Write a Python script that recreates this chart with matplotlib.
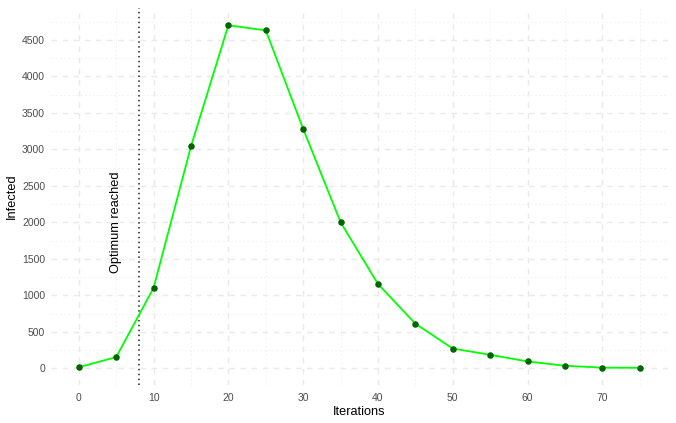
import matplotlib
matplotlib.use("Agg")
import matplotlib.pyplot as plt
from matplotlib.ticker import MultipleLocator

iterations = [0, 5, 10, 15, 20, 25, 30, 35, 40, 45, 50, 55, 60, 65, 70, 75]
infected = [14, 152, 1100, 3040, 4700, 4630, 3280, 2000, 1155, 610, 270, 184, 93, 34, 8, 6]
optimum_x = 8
annot_text = "Optimum reached"
annot_pos = (5, 2000)

plt.rcParams['font.family'] = ['Liberation Sans', 'DejaVu Sans']

fig = plt.figure(figsize=(6.76, 4.23), dpi=100)
ax = fig.add_axes([0.075, 0.0898, 0.913, 0.891])

ax.plot(iterations, infected, color='#00FF00', lw=1.3, zorder=3)
ax.scatter(iterations, infected, s=22, color='#006400', zorder=4, linewidths=0)
ax.axvline(optimum_x, color='#222222', lw=1.1, linestyle=(0, (1, 2.2)), zorder=2)
ax.text(annot_pos[0], annot_pos[1], annot_text, rotation=90, ha='center', va='center',
        fontsize=9.2, color='black')

ax.set_xlim(-3.75, 78.75)
ax.set_ylim(-230, 4935)
ax.xaxis.set_major_locator(MultipleLocator(10))
ax.xaxis.set_minor_locator(MultipleLocator(5))
ax.yaxis.set_major_locator(MultipleLocator(500))
ax.yaxis.set_minor_locator(MultipleLocator(250))

ax.grid(which='major', color='#EAEAEA', lw=1.0, linestyle=(0, (4, 4)))
ax.grid(which='minor', color='#F1F1F1', lw=0.6, linestyle=(0, (2.5, 2.5)))
ax.set_axisbelow(True)

for s in ax.spines.values():
    s.set_visible(False)
ax.tick_params(which='both', length=0, labelsize=7.5, colors='#4D4D4D')
ax.tick_params(axis='x', pad=6)
ax.tick_params(axis='y', pad=4)

ax.set_xlabel('Iterations', fontsize=9.2, color='black', labelpad=2)
ax.set_ylabel('Infected', fontsize=9.2, color='black', labelpad=3)

fig.savefig('out.png', dpi=100)
